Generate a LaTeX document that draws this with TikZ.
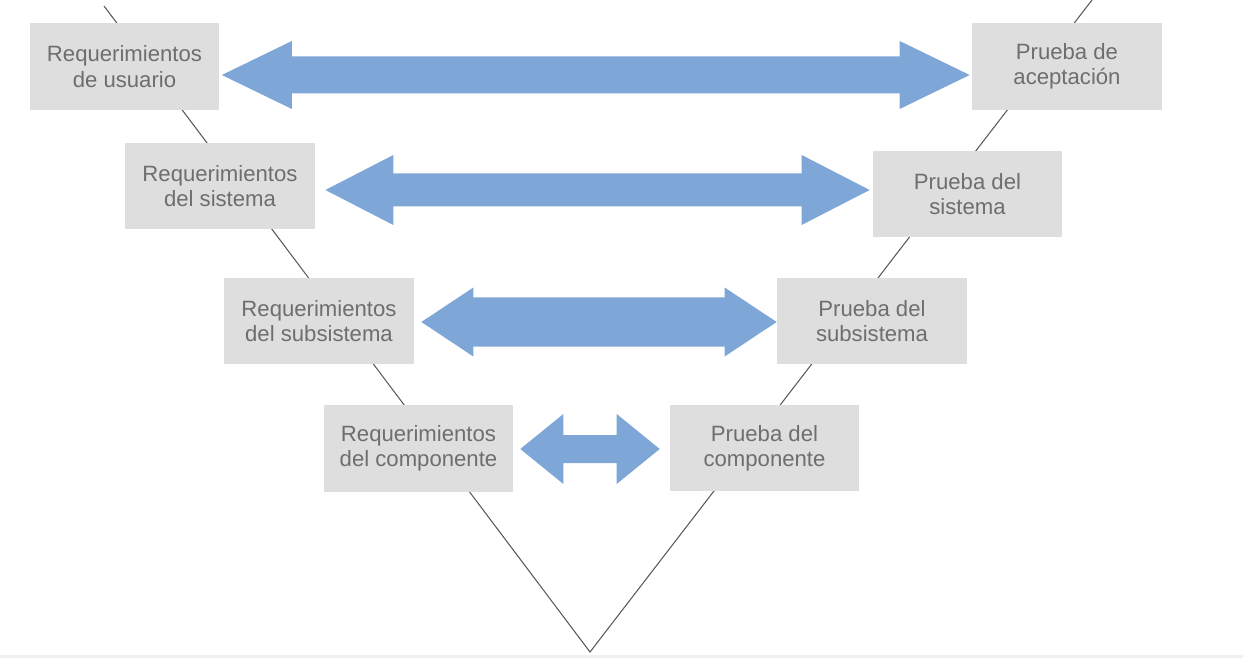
\documentclass[tikz,border=0pt]{standalone}
\usepackage{fontspec}
\setmainfont{Liberation Sans}
\usetikzlibrary{calc}

\definecolor{cajagris}{HTML}{DEDEDE}
\definecolor{textogris}{HTML}{6E6E6E}
\definecolor{azulflecha}{HTML}{7EA7D7}

% #1,#2 puntas, #3 largo de punta, #4 media altura de punta, #5 media altura del cuerpo
\newcommand{\flechadoble}[5]{%
  \fill[flecha] (#1) -- ($(#1)+(#3,-#4)$) -- ($(#1)+(#3,-#5)$)
    -- ($(#2)+(-#3,-#5)$) -- ($(#2)+(-#3,-#4)$) -- (#2)
    -- ($(#2)+(-#3,#4)$) -- ($(#2)+(-#3,#5)$)
    -- ($(#1)+(#3,#5)$) -- ($(#1)+(#3,#4)$) -- cycle;}

\begin{document}
\begin{tikzpicture}[x=0.02cm,y=-0.02cm,
  caja/.style={rectangle,fill=cajagris,text=textogris,align=center,
    minimum width=3.8cm,minimum height=1.74cm,inner sep=0pt,
    font=\fontsize{12.6}{14.4}\selectfont},
  flecha/.style={fill=azulflecha},
  linea/.style={draw=black!65,line width=0.6pt}]

  \useasboundingbox (0,0) rectangle (1243,658);
  \fill[black!6] (0,655) rectangle (1243,658);

  \coordinate (izq) at (104,6);
  \coordinate (v) at (590,652);
  \coordinate (der) at (1092,0);
  \draw[linea] (izq) -- (v) -- (der);

  \node[caja] (req1) at (124.5,66.5) {Requerimientos\\de usuario};
  \node[caja] (req2) at (220,186) {Requerimientos\\del sistema};
  \node[caja] (req3) at (319,321) {Requerimientos\\del subsistema};
  \node[caja] (req4) at (418.5,448.5) {Requerimientos\\del componente};

  \node[caja] (pru1) at (1067,66.5) {Prueba de\\aceptación};
  \node[caja] (pru2) at (967.5,194) {Prueba del\\sistema};
  \node[caja] (pru3) at (872,321) {Prueba del\\subsistema};
  \node[caja] (pru4) at (764.5,448) {Prueba del\\componente};

  \coordinate (a1) at ($(req1.east)+(2,8.5)$);
  \coordinate (b1) at ($(pru1.west)+(-2,8.5)$);
  \coordinate (a2) at ($(req2.east)+(10,4)$);
  \coordinate (b2) at ($(pru2.west)+(-2.5,-4)$);
  \coordinate (a3) at ($(req3.east)+(7,1)$);
  \coordinate (b3) at ($(pru3.west)+(0,1)$);
  \coordinate (a4) at ($(req4.east)+(6.5,0.5)$);
  \coordinate (b4) at ($(pru4.west)+(-9.5,1)$);

  \flechadoble{a1}{b1}{70}{34}{18.5}
  \flechadoble{a2}{b2}{68}{35}{16.5}
  \flechadoble{a3}{b3}{52}{34.5}{24.5}
  \flechadoble{a4}{b4}{43}{35}{14}
\end{tikzpicture}
\end{document}
